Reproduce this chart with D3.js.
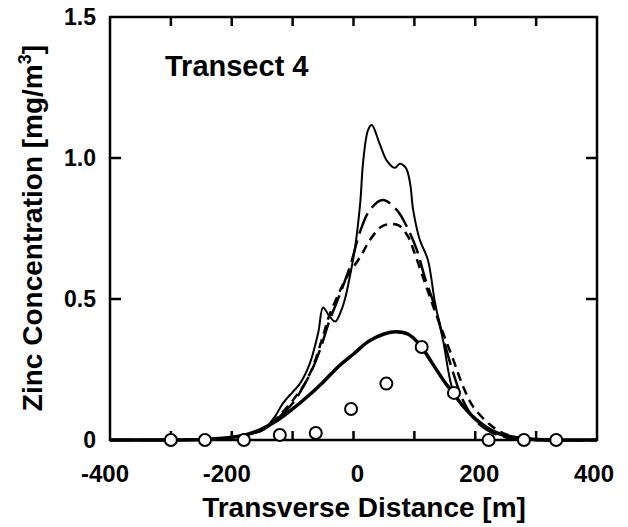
<!DOCTYPE html>
<html lang="en">
<head>
<meta charset="UTF-8">
<title>Transect 4</title>
<script src="https://d3js.org/d3.v7.min.js"></script>
<style>
 body { margin: 0; background: #fff; }
 text { font-family: "Liberation Sans", Arial, sans-serif; font-weight: bold; fill: #000; }
 .frame { fill: none; stroke: #000; stroke-width: 2.5px; }
 .tick { stroke: #000; stroke-width: 2.5px; }
 .curve { fill: none; stroke: #000; stroke-linejoin: round; stroke-linecap: butt; }
 .obs { fill: #fff; stroke: #000; stroke-width: 2px; }
</style>
</head>
<body>
<div id="chart"></div>
<script>
// measured points (open circles)
const obsX = [-300, -244, -180, -121, -62, -4, 54, 112, 165, 222, 280, 333];
const obsY = [0, 0, 0, 0.018, 0.025, 0.11, 0.2, 0.33, 0.167, 0, 0, 0];

// thin solid line
const thinX = [-400, -300, -250, -200, -175, -149, -130, -116, -100, -88, -72, -58, -50, -40, -30, -20, -14, -6, 2, 11, 16, 24, 30, 43, 55, 68, 76, 86, 93, 98, 109, 122, 134, 147, 158, 165, 191, 219, 245, 273, 300, 400];
const thinY = [0, 0, 0.002, 0.01, 0.02, 0.035, 0.08, 0.13, 0.17, 0.2, 0.27, 0.38, 0.47, 0.44, 0.42, 0.46, 0.5, 0.58, 0.674, 0.84, 0.99, 1.1, 1.117, 1.05, 0.99, 0.965, 0.98, 0.965, 0.91, 0.816, 0.709, 0.64, 0.486, 0.355, 0.22, 0.167, 0.095, 0.047, 0.017, 0.008, 0.002, 0];

// long dashed line
const longX = [-400, -250, -200, -150, -125, -100, -85, -70, -55, -40, -20, -5, 11, 27, 48, 71, 88, 104, 117, 134, 150, 165, 180, 200, 220, 250, 300, 400];
const longY = [0, 0.002, 0.008, 0.035, 0.075, 0.13, 0.18, 0.24, 0.32, 0.42, 0.53, 0.62, 0.74, 0.816, 0.851, 0.816, 0.755, 0.674, 0.578, 0.47, 0.34, 0.23, 0.14, 0.07, 0.035, 0.01, 0, 0];

// short dashed line
const shortX = [-400, -250, -200, -150, -125, -100, -80, -65, -50, -40, -22, -11, 11, 27, 45, 60, 75, 90, 100, 114, 125, 140, 164, 180, 196, 224, 245, 270, 300, 400];
const shortY = [0, 0.002, 0.01, 0.035, 0.08, 0.14, 0.2, 0.27, 0.37, 0.44, 0.53, 0.578, 0.649, 0.709, 0.755, 0.766, 0.76, 0.72, 0.665, 0.578, 0.51, 0.42, 0.284, 0.19, 0.12, 0.055, 0.025, 0.008, 0, 0];

// thick solid line (model)
const thickX = [-400, -300, -250, -200, -175, -150, -125, -100, -75, -50, -25, 0, 25, 50, 70, 90, 110, 130, 150, 165, 180, 200, 220, 240, 260, 280, 300, 400];
const thickY = [0, 0, 0.002, 0.01, 0.02, 0.04, 0.07, 0.11, 0.155, 0.205, 0.26, 0.305, 0.35, 0.376, 0.384, 0.375, 0.335, 0.27, 0.205, 0.163, 0.12, 0.075, 0.042, 0.022, 0.011, 0.005, 0.002, 0];

const xTicks = [-400, -200, 0, 200, 400];
const xMinor = [-300, -200, -100, 0, 100, 200, 300];
const yTicks = [0, 0.5, 1.0, 1.5];
const yTickLabels = ["0", "0.5", "1.0", "1.5"];

const width = 628, height = 527;
const x = d3.scaleLinear().domain([-400, 400]).range([110, 597]);
const y = d3.scaleLinear().domain([0, 1.5]).range([440, 17]);

const svg = d3.select('#chart').append('svg')
  .attr('width', width)
  .attr('height', height);

// ticks (inward, on all four sides)
const tk = 9;
svg.selectAll('.xt-bot').data(xMinor).enter().append('line')
  .attr('class', 'tick')
  .attr('x1', d => x(d)).attr('x2', d => x(d))
  .attr('y1', y(0)).attr('y2', y(0) - tk);
svg.selectAll('.xt-top').data(xMinor).enter().append('line')
  .attr('class', 'tick')
  .attr('x1', d => x(d)).attr('x2', d => x(d))
  .attr('y1', y(1.5)).attr('y2', y(1.5) + tk);
svg.selectAll('.yt-left').data([0.5, 1.0]).enter().append('line')
  .attr('class', 'tick')
  .attr('x1', x(-400)).attr('x2', x(-400) + 11)
  .attr('y1', d => y(d)).attr('y2', d => y(d));
svg.selectAll('.yt-right').data([0.5, 1.0]).enter().append('line')
  .attr('class', 'tick')
  .attr('x1', x(400)).attr('x2', x(400) - 11)
  .attr('y1', d => y(d)).attr('y2', d => y(d));

// tick labels
svg.selectAll('.xl').data(xTicks).enter().append('text')
  .attr('x', d => x(d) + (d < 0 ? -5 : d > 300 ? -3 : 4))
  .attr('y', 482)
  .attr('text-anchor', 'middle')
  .style('font-size', '24px')
  .text(d => d);
svg.selectAll('.yl').data(yTicks).enter().append('text')
  .attr('x', 96)
  .attr('y', d => y(d))
  .attr('dy', '0.36em')
  .attr('text-anchor', 'end')
  .style('font-size', '23px')
  .text((d, i) => yTickLabels[i]);

// axis titles
svg.append('text')
  .attr('x', 364)
  .attr('y', 517)
  .attr('text-anchor', 'middle')
  .style('font-size', '28px')
  .text('Transverse Distance [m]');

const yt = svg.append('text')
  .attr('transform', 'translate(42,228) rotate(-90)')
  .attr('text-anchor', 'middle')
  .style('font-size', '28px');
yt.append('tspan').text('Zinc Concentration [mg/m');
yt.append('tspan').attr('dy', -11).style('font-size', '18px').text('3');
yt.append('tspan').attr('dy', 11).text(']');

svg.append('text')
  .attr('x', 165)
  .attr('y', 76)
  .style('font-size', '29px')
  .text('Transect 4');

// curves
const line = d3.line()
  .x(d => x(d[0]))
  .y(d => y(d[1]))
  .curve(d3.curveCatmullRom.alpha(0.5));

function series(xs, ys) { return xs.map((v, i) => [v, ys[i]]); }

svg.append('path').datum(series(shortX, shortY))
  .attr('class', 'curve').attr('stroke-width', 2.5)
  .attr('stroke-dasharray', '9,6')
  .attr('d', line);
svg.append('path').datum(series(longX, longY))
  .attr('class', 'curve').attr('stroke-width', 2.5)
  .attr('stroke-dasharray', '22,7')
  .attr('d', line);
svg.append('path').datum(series(thinX, thinY))
  .attr('class', 'curve').attr('stroke-width', 2)
  .attr('d', line);
svg.append('path').datum(series(thickX, thickY))
  .attr('class', 'curve').attr('stroke-width', 3.5)
  .attr('d', line);

// frame
svg.append('rect')
  .attr('class', 'frame')
  .attr('x', x(-400)).attr('y', y(1.5))
  .attr('width', x(400) - x(-400))
  .attr('height', y(0) - y(1.5));

// observations
svg.selectAll('.obs').data(series(obsX, obsY)).enter().append('circle')
  .attr('class', 'obs')
  .attr('cx', d => x(d[0]))
  .attr('cy', d => y(d[1]))
  .attr('r', 6);
</script>
</body>
</html>
